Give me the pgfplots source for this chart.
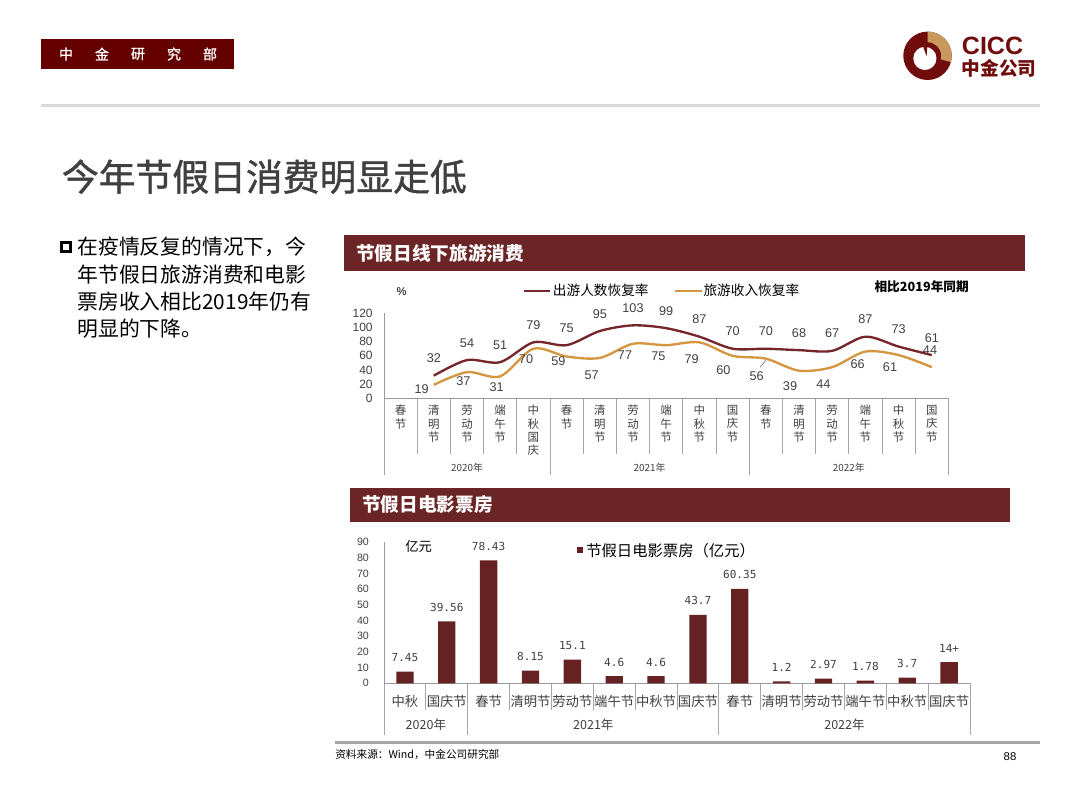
\documentclass[border=0pt]{standalone}
\usepackage{pgfplots}
\pgfplotsset{compat=1.18}
\usepackage{fontspec}
\setmainfont{Noto Sans CJK SC}
\newfontfamily\titlefont[FakeBold=1.2]{Noto Sans CJK SC}
\newfontfamily\arial{Liberation Sans}
\newfontfamily\mono{DejaVu Sans Mono}
\newcommand\fs[1]{\fontsize{#1}{#1}\selectfont}

\definecolor{hdr}{RGB}{107,37,38}
\definecolor{boxred}{RGB}{101,0,0}
\definecolor{barc}{RGB}{102,34,34}
\definecolor{lineA}{RGB}{118,38,42}
\definecolor{lineB}{RGB}{212,150,62}
\definecolor{txt}{RGB}{64,64,64}
\definecolor{logored}{RGB}{112,12,12}
\definecolor{gold}{RGB}{200,152,92}

\begin{document}
\begin{tikzpicture}
\begin{scope}[x=0.75pt,y=-0.75pt]
\fill[white] (0,0) rectangle (1080,810);
\path[use as bounding box] (0,0) rectangle (1080,810);
\coordinate (TO) at (384,398.3);
\coordinate (BO) at (384,683.3);

% page header
\fill[boxred] (41,39) rectangle (234,69);
\foreach \c [count=\i from 0] in {中,金,研,究,部}
  \node[text=white, font=\titlefont\fs{10.5}, inner sep=0] at (66+36*\i,54) {\c};
\fill[black!15] (41,103.5) rectangle (1040,106.5);

% logo
\begin{scope}[shift={(927.5,55.8)}, yscale=-1]
  \fill[logored] (0,0) circle (24.2);
  \fill[gold] (0,0) -- (90:24.2) arc (90:-15:24.2) -- cycle;
  \fill[logored] (0,0) circle (13.5);
  \fill[white] (-2.6,-2.6) circle (11.6);
  \fill[logored] (-4.4,9.4) -- (-0.2,9.4) -- (-0.9,-0.5) -- cycle;
\end{scope}
\node[anchor=west, inner sep=0, text=logored, font=\arial\bfseries\fs{18.75}] at (961.7,45.8) {CICC};
\node[anchor=west, inner sep=0, text=logored, font=\bfseries\fs{14}] at (961.7,68.3) {中金公司};

% title and bullet text
\node[anchor=west, inner sep=0, text=txt, font=\titlefont\fs{27.6}] at (61.7,176.7) {今年节假日消费明显走低};
\draw[line width=1.6pt, black] (61.5,242.5) rectangle (70.5,251.5);
\node[anchor=west, inner sep=0, font=\fs{15.6}] at (77.3,247) {在疫情反复的情况下，今};
\node[anchor=west, inner sep=0, font=\fs{15.6}] at (77.3,274.5) {年节假日旅游消费和电影};
\node[anchor=west, inner sep=0, font=\fs{15.6}] at (77.3,301.5) {票房收入相比2019年仍有};
\node[anchor=west, inner sep=0, font=\fs{15.6}] at (77.3,328.5) {明显的下降。};

% chart headers
\fill[hdr] (344,235) rectangle (1025,270.7);
\node[anchor=west, inner sep=0, text=white, font=\bfseries\fs{14}] at (356,253) {节假日线下旅游消费};
\fill[hdr] (350,487.5) rectangle (1010,521.5);
\node[anchor=west, inner sep=0, text=white, font=\bfseries\fs{14}] at (362,504.5) {节假日电影票房};

% top chart legend and notes
\node[font=\arial\fs{8.5}, inner sep=0] at (401.7,291.7) {\%};
\draw[lineA, line width=1.75pt] (524,290.7) -- (550,290.7);
\node[anchor=west, inner sep=0, font=\fs{10.25}] at (552.7,290.7) {出游人数恢复率};
\draw[lineB, line width=1.75pt] (675,290.7) -- (701.7,290.7);
\node[anchor=west, inner sep=0, font=\fs{10.25}] at (703.3,290.7) {旅游收入恢复率};
\node[anchor=west, inner sep=0, font=\bfseries\fs{9.5}] at (874.3,286.7) {相比2019年同期};

% top chart category separators and years
\foreach \i in {0,...,17} {
  \pgfmathsetmacro\xx{384+33.2*\i}
  \draw[gray!70, line width=0.6pt] (\xx,398.3) -- (\xx,454);
}
\foreach \i in {0,5,11,17} {
  \pgfmathsetmacro\xx{384+33.2*\i}
  \draw[gray!70, line width=0.6pt] (\xx,398.3) -- (\xx,475);
}
\node[font=\fs{7.4}, text=txt, inner sep=0] at (467,467.3) {2020年};
\node[font=\fs{7.4}, text=txt, inner sep=0] at (649.6,467.3) {2021年};
\node[font=\fs{7.4}, text=txt, inner sep=0] at (848.8,467.3) {2022年};
\draw[gray, line width=0.5pt] (760,367.3) -- (766,360);

% bottom chart separators and years
\foreach \i in {0,...,14} {
  \pgfmathsetmacro\xx{384+41.86*\i}
  \draw[gray!70, line width=0.6pt] (\xx,683.3) -- (\xx,710);
}
\foreach \i in {0,2,8,14} {
  \pgfmathsetmacro\xx{384+41.86*\i}
  \draw[gray!70, line width=0.6pt] (\xx,683.3) -- (\xx,735);
}
\node[font=\fs{9.4}, text=txt, inner sep=0] at (425.9,725) {2020年};
\node[font=\fs{9.4}, text=txt, inner sep=0] at (593.3,725) {2021年};
\node[font=\fs{9.4}, text=txt, inner sep=0] at (844.5,725) {2022年};

% bottom chart notes
\node[anchor=west, inner sep=0, font=\fs{10}] at (405,546.7) {亿元};
\fill[barc] (577.3,547.3) rectangle (583.3,553.3);
\node[anchor=west, inner sep=0, font=\fs{11.5}] at (586,550.3) {节假日电影票房（亿元）};

% footer
\fill[gray!70] (335,741) rectangle (1040,743.5);
\node[anchor=west, inner sep=0, font=\fs{8}] at (335,755) {资料来源：Wind，中金公司研究部};
\node[font=\arial\fs{8.5}, inner sep=0] at (1010,757) {88};
\end{scope}

% travel recovery chart
\begin{axis}[
  at={(TO)}, anchor=south west,
  scale only axis, width=423.3pt, height=63.75pt,
  xmin=-0.5, xmax=16.5, ymin=0, ymax=120,
  axis lines=left, axis line style={-, draw=gray!80, line width=0.6pt},
  major tick length=0pt, tick style={draw=none},
  ytick={0,20,...,120},
  /pgf/number format/assume math mode=true,
  yticklabel style={font=\arial\fs{9}, text=txt, xshift=-5pt},
  xtick={0,...,16},
  xticklabels={{春\\节},{清\\明\\节},{劳\\动\\节},{端\\午\\节},{中\\秋\\国\\庆},{春\\节},{清\\明\\节},{劳\\动\\节},{端\\午\\节},{中\\秋\\节},{国\\庆\\节},{春\\节},{清\\明\\节},{劳\\动\\节},{端\\午\\节},{中\\秋\\节},{国\\庆\\节}},
  xticklabel style={font=\fontsize{8.6}{10}\selectfont, text=txt, align=center, anchor=north, inner sep=0pt, yshift=-5pt},
  clip=false,
]
\addplot[smooth, lineA, line width=1.75pt, mark=none,
  nodes near coords, point meta=explicit symbolic,
  every node near coord/.append style={font=\arial\fs{9.5}, text=txt, anchor=center, yshift=13pt}]
  coordinates {(1,32)[32] (2,54)[54] (3,51)[51] (4,79)[79] (5,75)[75] (6,95)[95] (7,103)[103] (8,99)[99]
    (9,87)[87] (10,70)[70] (11,70)[70] (12,68)[68] (13,67)[67] (14,87)[87] (15,73)[73] (16,61)[61]};
\addplot[smooth, lineB, line width=1.75pt, mark=none]
  coordinates {(1,19) (2,37) (3,31) (4,70) (5,59) (6,57) (7,77) (8,75)
    (9,79) (10,60) (11,56) (12,39) (13,44) (14,66) (15,61) (16,44)};
\addplot[draw=none, mark=none, nodes near coords, point meta=explicit symbolic,
  every node near coord/.append style={font=\arial\fs{9.5}, text=txt, anchor=center}]
  coordinates {(0.636,12.7)[19] (1.889,24.9)[37] (2.895,15.5)[31] (3.777,55.9)[70] (4.750,52.3)[59]
    (5.756,33.3)[57] (6.759,60.7)[77] (7.762,59.7)[75] (8.768,55.5)[79] (9.720,40.0)[60]
    (10.726,31.5)[56] (11.729,17.4)[39] (12.732,20.2)[44] (13.768,48.4)[66] (14.741,44.6)[61] (15.946,68.2)[44]};
\end{axis}

% box office chart
\begin{axis}[
  at={(BO)}, anchor=south west,
  scale only axis, width=439.5pt, height=105.75pt,
  xmin=-0.5, xmax=13.5, ymin=0, ymax=90,
  ybar, bar width=13pt,
  axis lines=left, axis line style={-, draw=gray!80, line width=0.6pt},
  major tick length=0pt, tick style={draw=none},
  ytick={0,10,...,90},
  /pgf/number format/assume math mode=true,
  yticklabel style={font=\arial\fs{8}, text=txt, xshift=-7.8pt},
  xtick={0,...,13},
  xticklabels={中秋,国庆节,春节,清明节,劳动节,端午节,中秋节,国庆节,春节,清明节,劳动节,端午节,中秋节,国庆节},
  xticklabel style={font=\fs{10}, text=txt, anchor=center, yshift=-13.8pt},
  clip=false,
]
\addplot[fill=barc, draw=none,
  nodes near coords, point meta=explicit symbolic,
  every node near coord/.append style={font=\mono\fs{8.3}, text=txt, anchor=center, yshift=10.5pt}]
  coordinates {(0,7.45)[7.45] (1,39.56)[39.56] (2,78.43)[78.43] (3,8.15)[8.15] (4,15.1)[15.1]
    (5,4.6)[4.6] (6,4.6)[4.6] (7,43.7)[43.7] (8,60.35)[60.35] (9,1.2)[1.2] (10,2.97)[2.97]
    (11,1.78)[1.78] (12,3.7)[3.7] (13,13.5)[14+]};
\end{axis}
\end{tikzpicture}
\end{document}
